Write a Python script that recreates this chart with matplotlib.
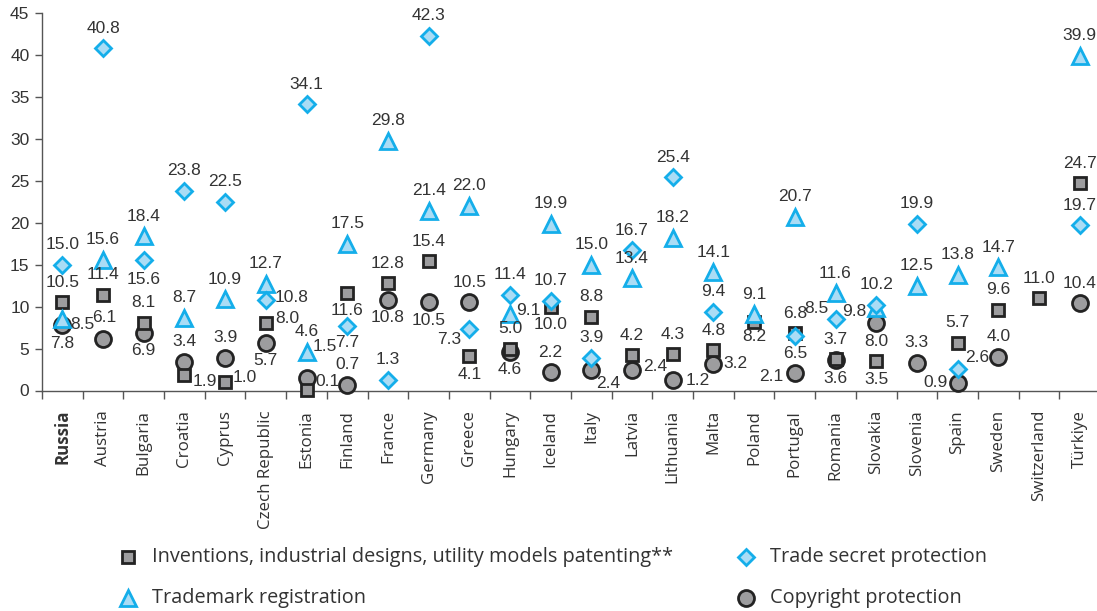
import numpy as np
import matplotlib
matplotlib.use("Agg")
import matplotlib.pyplot as plt
from matplotlib.lines import Line2D

NUM_FONT = ["Liberation Sans Narrow", "Liberation Sans", "DejaVu Sans"]
TXT_FONT = ["Open Sans", "DejaVu Sans"]
INK = "#333333"
GREY_FILL, GREY_EDGE = "#9d9d9f", "#232323"
BLUE_FILL, BLUE_EDGE = "#aadcf5", "#14aeea"

countries = ["Russia", "Austria", "Bulgaria", "Croatia", "Cyprus", "Czech Republic",
             "Estonia", "Finland", "France", "Germany", "Greece", "Hungary", "Iceland",
             "Italy", "Latvia", "Lithuania", "Malta", "Poland", "Portugal", "Romania",
             "Slovakia", "Slovenia", "Spain", "Sweden", "Switzerland", "Türkiye"]
nan = np.nan
patents = [10.5, 11.4, 8.1, 1.9, 1.0, 8.0, 0.1, 11.6, 12.8, 15.4, 4.1, 5.0, 10.0,
           8.8, 4.2, 4.3, 4.8, 8.2, 6.8, 3.7, 3.5, nan, 5.7, 9.6, 11.0, 24.7]
trademarks = [8.5, 15.6, 18.4, 8.7, 10.9, 12.7, 4.6, 17.5, 29.8, 21.4, 22.0, 9.1, 19.9,
              15.0, 13.4, 18.2, 14.1, 9.1, 20.7, 11.6, 9.8, 12.5, 13.8, 14.7, nan, 39.9]
secrets = [15.0, 40.8, 15.6, 23.8, 22.5, 10.8, 34.1, 7.7, 1.3, 42.3, 7.3, 11.4, 10.7,
           3.9, 16.7, 25.4, 9.4, nan, 6.5, 8.5, 10.2, 19.9, 2.6, nan, nan, 19.7]
copyright = [7.8, 6.1, 6.9, 3.4, 3.9, 5.7, 1.5, 0.7, 10.8, 10.5, 10.5, 4.6, 2.2,
             2.4, 2.4, 1.2, 3.2, nan, 2.1, 3.6, 8.0, 3.3, 0.9, 4.0, nan, 10.4]

series = [
    # name, values, marker style, legend text
    ("patents", patents, dict(marker="s", ms=9, mfc=GREY_FILL, mec=GREY_EDGE, mew=2.0, zorder=4),
     "Inventions, industrial designs, utility models patenting**"),
    ("trademarks", trademarks, dict(marker="^", ms=11, mfc=BLUE_FILL, mec=BLUE_EDGE, mew=2.0, zorder=5),
     "Trademark registration"),
    ("secrets", secrets, dict(marker="D", ms=7.8, mfc=BLUE_FILL, mec=BLUE_EDGE, mew=2.0, zorder=6),
     "Trade secret protection"),
    ("copyright", copyright, dict(marker="o", ms=11.5, mfc=GREY_FILL, mec=GREY_EDGE, mew=2.0, zorder=3),
     "Copyright protection"),
]

# label placement: default above, otherwise (dx, dy, ha) in pixels
ABOVE, BELOW = (0, 20, "center"), (0, -18, "center")
place = {
    ("patents", "Croatia"): (8, -7, "left"),
    ("patents", "Cyprus"): (8, 5, "left"),
    ("patents", "Czech Republic"): (9, 5, "left"),
    ("patents", "Estonia"): (9, 8, "left"),
    ("patents", "Finland"): (0, -17, "center"),
    ("patents", "Greece"): BELOW,
    ("patents", "Iceland"): BELOW,
    ("patents", "Poland"): (0, -15, "center"),
    ("patents", "Slovakia"): BELOW,
    ("trademarks", "Russia"): (8, -5, "left"),
    ("trademarks", "Hungary"): (6, 4, "left"),
    ("trademarks", "Slovakia"): (-10, -3, "right"),
    ("secrets", "Bulgaria"): (0, -20, "center"),
    ("secrets", "Czech Republic"): (9, 2, "left"),
    ("secrets", "Finland"): (0, -17, "center"),
    ("secrets", "Greece"): (-8, -10, "right"),
    ("secrets", "Portugal"): BELOW,
    ("secrets", "Romania"): (-7, 11, "right"),
    ("secrets", "Spain"): (8, 11, "left"),
    ("copyright", "Russia"): BELOW,
    ("copyright", "Austria"): (1, 22, "center"),
    ("copyright", "Bulgaria"): BELOW,
    ("copyright", "Czech Republic"): BELOW,
    ("copyright", "Estonia"): (6, 31, "left"),
    ("copyright", "France"): BELOW,
    ("copyright", "Germany"): BELOW,
    ("copyright", "Hungary"): BELOW,
    ("copyright", "Italy"): (5, -13, "left"),
    ("copyright", "Latvia"): (11, 4, "left"),
    ("copyright", "Lithuania"): (13, 0, "left"),
    ("copyright", "Malta"): (10, 0, "left"),
    ("copyright", "Portugal"): (-11, -4, "right"),
    ("copyright", "Romania"): BELOW,
    ("copyright", "Slovakia"): BELOW,
    ("copyright", "Spain"): (-10, 0, "right"),
}

W, H = 1097, 611
fig = plt.figure(figsize=(W / 100, H / 100), dpi=100)
fig.patch.set_facecolor("white")
ax = fig.add_axes([42 / W, (H - 390.5) / H, 1058 / W, 377.5 / H])

x = np.arange(len(countries))
for name, vals, style, _ in series:
    ax.plot(x, vals, linestyle="none", clip_on=False, **style)
    for xi, (c, v) in enumerate(zip(countries, vals)):
        if np.isnan(v):
            continue
        dx, dy, ha = place.get((name, c), ABOVE)
        ax.annotate(f"{v:.1f}", (xi, v), xytext=(dx, dy), textcoords="offset pixels",
                    ha=ha, va="center", fontsize=12.5, family=NUM_FONT, color=INK,
                    zorder=10)

ax.set_xlim(-0.5, len(countries) - 0.5)
ax.set_ylim(0, 45)
ax.set_yticks(range(0, 46, 5))
ax.set_yticklabels([str(t) for t in range(0, 46, 5)], family=NUM_FONT, fontsize=12.5, color=INK)

ax.set_xticks(x)
ax.set_xticklabels(countries, rotation=90, family=TXT_FONT, fontsize=12.2, color=INK)
ax.get_xticklabels()[0].set_fontweight("bold")
ax.set_xticks(np.arange(-0.5, len(countries), 1.0), minor=True)
ax.tick_params(axis="x", which="major", length=0, pad=14)
ax.tick_params(axis="x", which="minor", length=6, width=1, color="#555555", direction="out")
ax.tick_params(axis="y", length=5, width=1, color="#555555", direction="out", pad=4)

for side in ("top", "right"):
    ax.spines[side].set_visible(False)
for side in ("left", "bottom"):
    ax.spines[side].set_color("#555555")
    ax.spines[side].set_linewidth(1.0)

# legend drawn by hand in two columns
legend_pos = [(128, 557), (128, 598), (746, 557), (746, 598)]
for (name, vals, style, label), (px, py) in zip(series, legend_pos):
    st = dict(style)
    st.pop("zorder")
    fig.add_artist(Line2D([px / W], [1 - py / H], transform=fig.transFigure,
                          linestyle="none", **st))
    fig.text((px + 24) / W, 1 - py / H, label, ha="left", va="center",
             family=TXT_FONT, fontsize=14.3, color=INK)

fig.savefig("out.png", dpi=100, facecolor="white")
